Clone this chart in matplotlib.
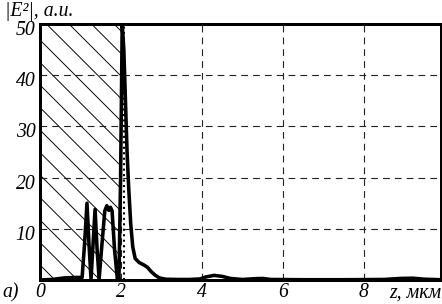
import matplotlib
matplotlib.use('Agg')
import matplotlib.pyplot as plt
import matplotlib.transforms as mtransforms
import numpy as np

# --- DATA ---
z = [0.0, 0.3, 0.6, 0.9, 1.04, 1.1, 1.16, 1.21, 1.26, 1.31, 1.36, 1.41, 1.46,
     1.53, 1.6, 1.65, 1.7, 1.74, 1.78, 1.84, 1.91, 1.95, 1.99, 2.03, 2.07,
     2.11, 2.15, 2.19, 2.24, 2.29, 2.35, 2.45, 2.55, 2.65, 2.75, 2.85, 2.95,
     3.1, 3.4, 3.7, 3.95, 4.1, 4.3, 4.5, 4.7, 5.0, 5.3, 5.5, 5.7, 6.5, 7.5,
     8.5, 8.9, 9.2, 9.5, 9.9]
e2 = [0.0, 0.1, 0.4, 0.5, 0.5, 7.0, 15.0, 7.0, 0.2, 7.0, 13.8, 6.0, 0.2,
      7.0, 13.5, 14.5, 13.6, 14.2, 13.5, 6.0, 0.2, 0.3, 20.0, 50.0, 45.0,
      35.0, 25.0, 18.0, 11.0, 6.5, 4.2, 3.4, 3.0, 2.5, 1.6, 0.9, 0.4,
      0.15, 0.1, 0.1, 0.2, 0.6, 0.9, 0.7, 0.3, 0.1, 0.25, 0.3, 0.1, 0.05, 0.05,
      0.1, 0.3, 0.35, 0.15, 0.05]

hatch_end = 2.0      # hatched layer boundary, mkm
dotted_z = 2.07      # dotted marker line
xticks = [0, 2, 4, 6, 8]
yticks = [10, 20, 30, 40, 50]

DPI = 135
plt.rcParams['font.family'] = 'Liberation Serif'
plt.rcParams['font.style'] = 'italic'
plt.rcParams['hatch.linewidth'] = 0.5

fig = plt.figure(figsize=(442 / DPI, 304 / DPI), dpi=DPI)
ax = fig.add_axes([0.0905, 0.079, 0.907, 0.842])

# hatched region
ax.axvspan(0, hatch_end, facecolor='none', edgecolor='k', hatch='\\\\', linewidth=0, zorder=1)

# grid
for x in xticks[1:]:
    ax.axvline(x, color='#222222', lw=0.6, ls=(0, (6, 4.5)), zorder=2)
for y in yticks[:-1]:
    ax.axhline(y, color='#222222', lw=0.6, ls=(0, (6, 4.5)), zorder=2)

ax.axvline(dotted_z, color='k', lw=1.1, ls=':', zorder=3)

ax.plot(z, e2, color='k', lw=1.9, zorder=4)

ax.set_xlim(0, 9.9)
ax.set_ylim(0, 50)
ax.set_xticks(xticks)
ax.set_yticks(yticks)
ax.set_xticklabels([str(t) for t in xticks], fontsize=10.5, style='italic')
ax.set_yticklabels([str(t) for t in yticks], fontsize=10.5, style='italic')
ax.tick_params(length=0)
ax.tick_params(axis='x', pad=1.5)
ax.tick_params(axis='y', pad=2.5)
shift = mtransforms.ScaledTranslation(0, -4 / DPI, fig.dpi_scale_trans)
for lab in ax.get_yticklabels():
    lab.set_transform(lab.get_transform() + shift)
for s in ax.spines.values():
    s.set_linewidth(1.6)

fig.text(0.012, 0.962, '|E²|, a.u.', fontsize=10.5, style='italic', va='center', ha='left')
fig.text(0.998, 0.036, 'z, мкм', fontsize=10.5, style='italic', va='center', ha='right')
fig.text(0.005, 0.036, 'a)', fontsize=10.5, style='italic', va='center', ha='left')

fig.savefig('out.png', dpi=DPI)
